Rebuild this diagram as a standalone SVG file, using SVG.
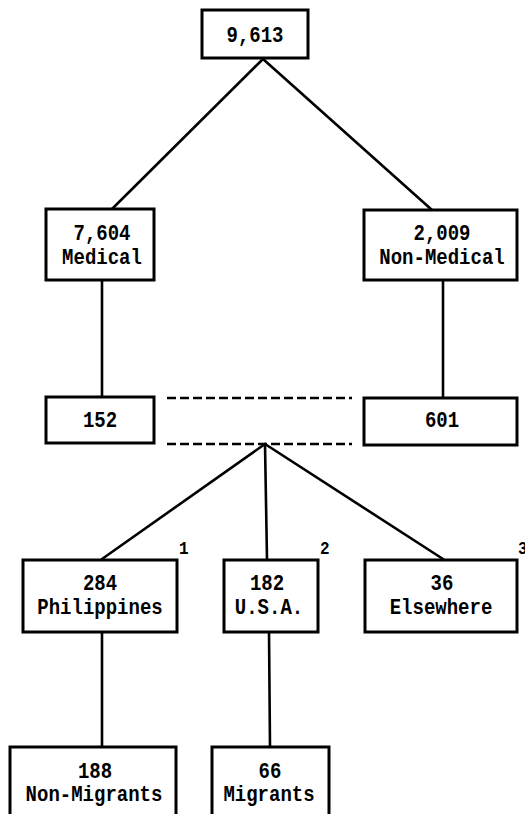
<svg xmlns="http://www.w3.org/2000/svg" width="525" height="814" viewBox="0 0 525 814">
<style>
.box{fill:#fff;stroke:#000;stroke-width:3}
.ln{stroke:#000;stroke-width:2.6;fill:none;stroke-linecap:round}
.dash{stroke:#000;stroke-width:2.4;fill:none;stroke-dasharray:9 4}
text{font-family:"Liberation Mono","Courier New",monospace;font-weight:bold;font-size:19px;fill:#000;text-anchor:middle}
.sup{font-size:16px;text-anchor:start}
</style>
<rect width="525" height="814" fill="#fff"/>
<g id="connectors">
<line class="ln" x1="263" y1="59" x2="112" y2="209"/>
<line class="ln" x1="263" y1="59" x2="432" y2="210"/>
<line class="ln" x1="102" y1="280" x2="102" y2="397"/>
<line class="ln" x1="443" y1="280" x2="443" y2="398"/>
<line class="dash" x1="167" y1="398" x2="352" y2="398"/>
<line class="dash" x1="167" y1="444" x2="352" y2="444"/>
<line class="ln" x1="265" y1="444" x2="102" y2="559"/>
<line class="ln" x1="265" y1="444" x2="267" y2="559"/>
<line class="ln" x1="265" y1="444" x2="443" y2="559"/>
<line class="ln" x1="102" y1="632" x2="102" y2="747"/>
<line class="ln" x1="269" y1="632" x2="270" y2="747"/>
</g>
<g id="n-total">
<rect class="box" x="202" y="10" width="106" height="48"/>
<text transform="translate(255,42) scale(1,1.15)">9,613</text>
</g>
<g id="n-medical">
<rect class="box" x="46" y="209" width="108" height="71"/>
<text transform="translate(102,240) scale(1,1.15)">7,604</text>
<text transform="translate(102,264) scale(1,1.15)">Medical</text>
</g>
<g id="n-nonmedical">
<rect class="box" x="364" y="210" width="153" height="70"/>
<text transform="translate(442,240) scale(1,1.15)">2,009</text>
<text transform="translate(442,264) scale(1,1.15)">Non-Medical</text>
</g>
<g id="n-152">
<rect class="box" x="46" y="397" width="108" height="46"/>
<text transform="translate(100,427) scale(1,1.15)">152</text>
</g>
<g id="n-601">
<rect class="box" x="364" y="398" width="153" height="47"/>
<text transform="translate(442,427) scale(1,1.15)">601</text>
</g>
<g id="n-philippines">
<rect class="box" x="23" y="560" width="154" height="72"/>
<text transform="translate(100,590) scale(1,1.15)">284</text>
<text transform="translate(100,614) scale(1,1.15)">Philippines</text>
<text class="sup" transform="translate(179,554) scale(1,1.15)">1</text>
</g>
<g id="n-usa">
<rect class="box" x="224" y="560" width="94" height="72"/>
<text transform="translate(267,590) scale(1,1.15)">182</text>
<text transform="translate(269,614) scale(1,1.15)">U.S.A.</text>
<text class="sup" transform="translate(320,554) scale(1,1.15)">2</text>
</g>
<g id="n-elsewhere">
<rect class="box" x="365" y="560" width="152" height="72"/>
<text transform="translate(442,590) scale(1,1.15)">36</text>
<text transform="translate(441,614) scale(1,1.15)">Elsewhere</text>
<text class="sup" transform="translate(518,554) scale(1,1.15)">3</text>
</g>
<g id="n-nonmigrants">
<rect class="box" x="10" y="747" width="166" height="90"/>
<text transform="translate(95,778) scale(1,1.15)">188</text>
<text transform="translate(94,801) scale(1,1.15)">Non-Migrants</text>
</g>
<g id="n-migrants">
<rect class="box" x="212" y="747" width="117" height="90"/>
<text transform="translate(270,778) scale(1,1.15)">66</text>
<text transform="translate(269,801) scale(1,1.15)">Migrants</text>
</g>
</svg>
